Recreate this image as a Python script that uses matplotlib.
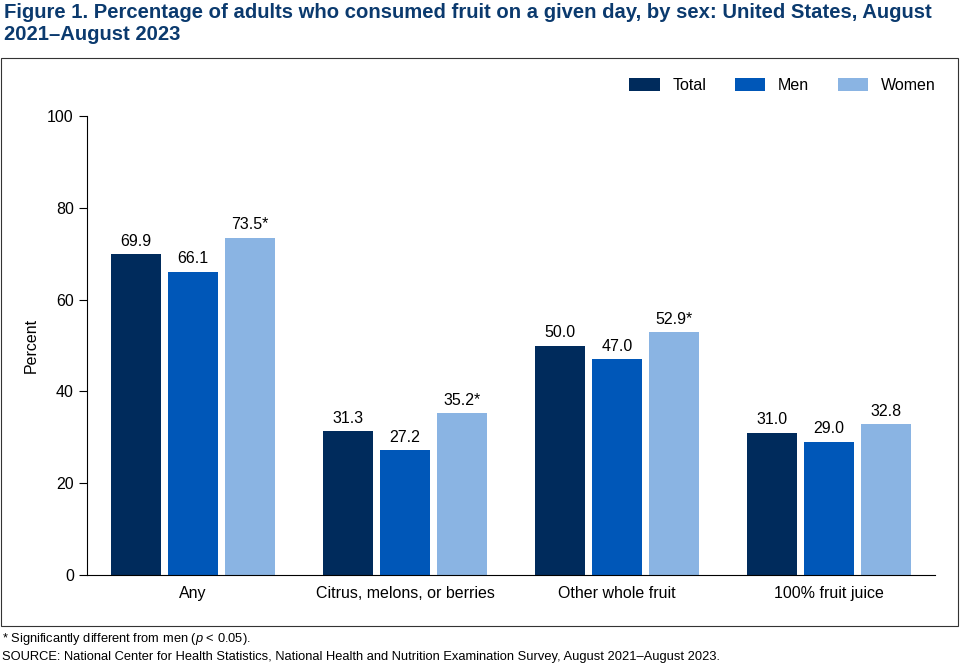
import matplotlib
matplotlib.use("Agg")
import matplotlib.pyplot as plt
import numpy as np
from matplotlib.patches import Rectangle

plt.rcParams['font.family'] = ['Liberation Sans', 'DejaVu Sans']
plt.rcParams['mathtext.fontset'] = 'custom'
plt.rcParams['mathtext.it'] = 'Liberation Sans:italic'
plt.rcParams['mathtext.rm'] = 'Liberation Sans'

categories = ["Any", "Citrus, melons, or berries", "Other whole fruit", "100% fruit juice"]
series = ["Total", "Men", "Women"]
total = [69.9, 31.3, 50.0, 31.0]
men = [66.1, 27.2, 47.0, 29.0]
women = [73.5, 35.2, 52.9, 32.8]
total_lbl = ["69.9", "31.3", "50.0", "31.0"]
men_lbl = ["66.1", "27.2", "47.0", "29.0"]
women_lbl = ["73.5*", "35.2*", "52.9*", "32.8"]
colors = ["#002B5C", "#0057B8", "#8AB4E3"]

fig = plt.figure(figsize=(9.6, 6.65), dpi=100)
W, H = 960, 665
fig.text(4/W, 1-3/H, "Figure 1. Percentage of adults who consumed fruit on a given day, by sex: United States, August\n2021\u2013August 2023",
         ha='left', va='top', fontsize=14.6, fontweight='bold', color='#0B3A6E', linespacing=1.2)
fig.patches.append(Rectangle((1/W, 1-626/H), 957/W, (626-58)/H, transform=fig.transFigure,
                             fill=False, edgecolor='#333333', linewidth=0.8))

ax = fig.add_axes([87/W, 1-575/H, 848/W, (575-116)/H])
x = np.arange(len(categories))
bw, off = 0.24, 0.269
for i, (vals, lbls) in enumerate([(total, total_lbl), (men, men_lbl), (women, women_lbl)]):
    bars = ax.bar(x + (i-1)*off, vals, bw, color=colors[i], label=series[i])
    for b, l in zip(bars, lbls):
        ax.text(b.get_x()+b.get_width()/2, b.get_height()+1.2, l, ha='center', va='bottom', fontsize=11.5)
ax.set_xlim(-0.5, 3.5)
ax.set_ylim(0, 100)
ax.set_yticks([0, 20, 40, 60, 80, 100])
ax.set_xticks(x)
ax.set_xticklabels(categories, fontsize=11.5)
ax.tick_params(axis='x', length=0, pad=8)
ax.tick_params(axis='y', labelsize=11.5, direction='out', length=6)
for s in ['top', 'right']:
    ax.spines[s].set_visible(False)
ax.set_ylabel("Percent", fontsize=11.5, labelpad=6)
ax.legend(loc='upper right', bbox_to_anchor=(1.018, 1.115), ncol=3, frameon=False, fontsize=11.5,
          handlelength=1.9, handleheight=0.9, columnspacing=1.8)

fig.text(2/W, 1-639/H, "* Significantly different from men ($p$ < 0.05).", ha='left', va='center', fontsize=9.3)
fig.text(2/W, 1-657/H, "SOURCE: National Center for Health Statistics, National Health and Nutrition Examination Survey, August 2021\u2013August 2023.",
         ha='left', va='center', fontsize=9.3)
fig.savefig("out.png", dpi=100)
